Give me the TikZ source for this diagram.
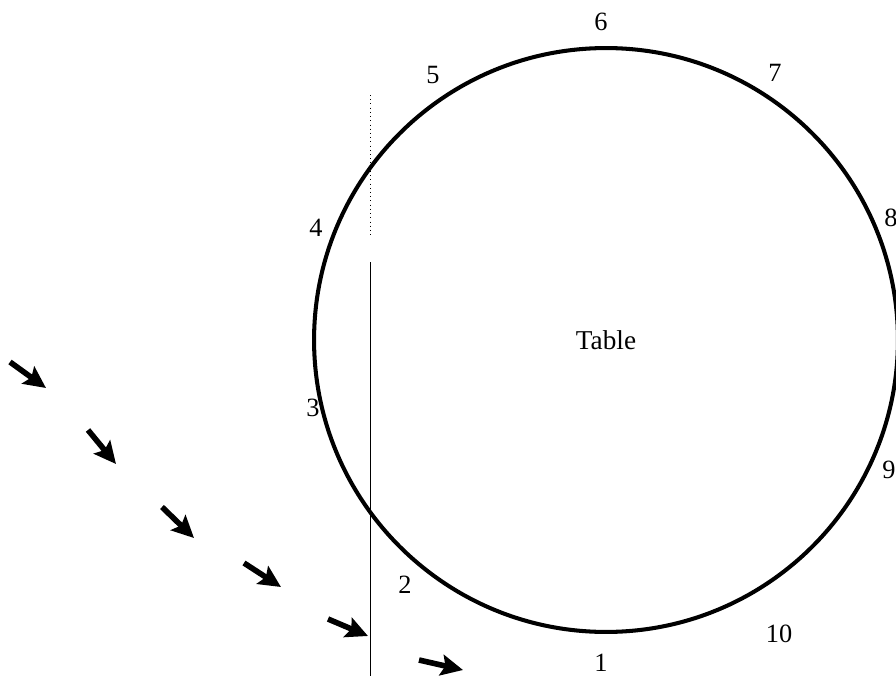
\documentclass[tikz,border=0pt]{standalone}
\usepackage{fontspec}
\setmainfont{Liberation Serif}
\usetikzlibrary{arrows.meta}

\tikzset{
    seat/.style={font=\fontsize{15}{17}\selectfont, inner sep=0pt},
    flow/.style={line width=3.2pt, -{Stealth[length=0.44cm, width=0.42cm, inset=0.08cm]}}
}

\begin{document}
\begin{tikzpicture}[x=0.02cm, y=-0.02cm]
    \useasboundingbox (0,0) rectangle (896,676);

    % The table
    \node[draw, circle, line width=2.3pt, minimum size=11.68cm, inner sep=0pt,
          font=\fontsize{15.5}{17}\selectfont] (table) at (606,340) {Table};

    % Seat numbers
    \node[seat] (s1) at (601,663) {1};
    \node[seat] (s2) at (405,585) {2};
    \node[seat] (s3) at (313,408) {3};
    \node[seat] (s4) at (316,228) {4};
    \node[seat] (s5) at (433,75) {5};
    \node[seat] (s6) at (601,22) {6};
    \node[seat] (s7) at (775,73) {7};
    \node[seat] (s8) at (891,218) {8};
    \node[seat] (s9) at (889,470) {9};
    \node[seat] (s10) at (779,634) {10};

    % Vertical guide line
    \coordinate (gtop) at (370,95);
    \coordinate (gmid) at (370,238);
    \coordinate (glow) at (370,262);
    \coordinate (gbot) at (370,676);
    \draw[line width=0.4pt, dotted] (gtop) -- (gmid);
    \draw[line width=0.4pt] (glow) -- (gbot);

    % Arrows
    \coordinate (a1) at (10,362);  \coordinate (b1) at (46,388);
    \coordinate (a2) at (88,430);  \coordinate (b2) at (116,464);
    \coordinate (a3) at (162,507); \coordinate (b3) at (194,538);
    \coordinate (a4) at (244,563); \coordinate (b4) at (281,587);
    \coordinate (a5) at (328,619); \coordinate (b5) at (368,636);
    \coordinate (a6) at (419,660); \coordinate (b6) at (463,670);
    \draw[flow] (a1) -- (b1);
    \draw[flow] (a2) -- (b2);
    \draw[flow] (a3) -- (b3);
    \draw[flow] (a4) -- (b4);
    \draw[flow] (a5) -- (b5);
    \draw[flow] (a6) -- (b6);
\end{tikzpicture}
\end{document}
